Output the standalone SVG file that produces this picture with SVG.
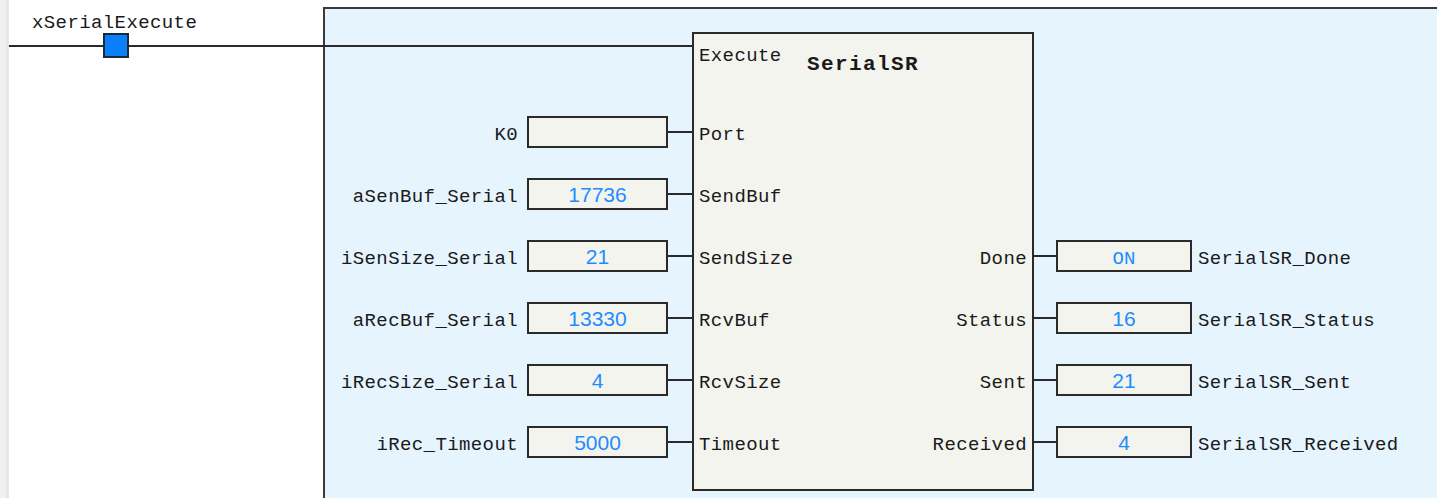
<svg xmlns="http://www.w3.org/2000/svg" width="1437" height="498" viewBox="0 0 1437 498">
<style>
.m{font-family:"Liberation Mono","DejaVu Sans Mono",monospace;font-size:19px;fill:#1a1a1a;letter-spacing:0.4px}
.r{text-anchor:end}
.v{font-family:"Liberation Sans",Arial,sans-serif;font-size:21px;fill:#1e8cff;text-anchor:middle}
.vm{font-family:"Liberation Mono",monospace;font-size:19px;fill:#1e8cff;text-anchor:middle}
.box{fill:#f4f4ef;stroke:#2a2a2a;stroke-width:2}
.ln{stroke:#2a2a2a;stroke-width:2;fill:none}
</style>
<rect x="0" y="0" width="1437" height="498" fill="#ffffff"/>
<rect x="0" y="0" width="6" height="498" fill="#f0f0f0"/>
<rect x="6" y="0" width="3" height="498" fill="#e6e6e6"/>
<g id="region">
<rect x="324" y="8" width="1120" height="500" fill="#e6f4fe" stroke="#3a3a3a" stroke-width="2"/>
</g>
<g id="connectors">
<line class="ln" x1="9" y1="46" x2="693" y2="46"/>
<line class="ln" x1="667" y1="132" x2="693" y2="132"/>
<line class="ln" x1="667" y1="194" x2="693" y2="194"/>
<line class="ln" x1="667" y1="256" x2="693" y2="256"/>
<line class="ln" x1="667" y1="318" x2="693" y2="318"/>
<line class="ln" x1="667" y1="380" x2="693" y2="380"/>
<line class="ln" x1="667" y1="442" x2="693" y2="442"/>
<line class="ln" x1="1033" y1="256" x2="1057" y2="256"/>
<line class="ln" x1="1033" y1="318" x2="1057" y2="318"/>
<line class="ln" x1="1033" y1="380" x2="1057" y2="380"/>
<line class="ln" x1="1033" y1="442" x2="1057" y2="442"/>
</g>
<g id="contact">
<rect x="104" y="34" width="24" height="23" fill="#0a80f8" stroke="#1a2a3a" stroke-width="2"/>
<text class="m" x="32" y="28">xSerialExecute</text>
</g>
<g id="fb">
<rect class="box" x="693" y="33" width="340" height="457"/>
<text class="m" x="699" y="61">Execute</text>
<text x="807" y="70" style="font-family:'Liberation Mono',monospace;font-size:21px;font-weight:bold;fill:#1a1a1a;letter-spacing:1.4px">SerialSR</text>
<text class="m" x="699" y="140">Port</text>
<text class="m" x="699" y="202">SendBuf</text>
<text class="m" x="699" y="264">SendSize</text>
<text class="m" x="699" y="326">RcvBuf</text>
<text class="m" x="699" y="388">RcvSize</text>
<text class="m" x="699" y="450">Timeout</text>
<text class="m r" x="1027" y="264">Done</text>
<text class="m r" x="1027" y="326">Status</text>
<text class="m r" x="1027" y="388">Sent</text>
<text class="m r" x="1027" y="450">Received</text>
</g>
<g id="in-port">
<rect class="box" x="528" y="117" width="139" height="30"/>
<text class="m r" x="518" y="140">K0</text>
</g>
<g id="in-sendbuf">
<rect class="box" x="528" y="179" width="139" height="30"/>
<text class="m r" x="518" y="202">aSenBuf_Serial</text>
<text class="v" x="597.5" y="202">17736</text>
</g>
<g id="in-sendsize">
<rect class="box" x="528" y="241" width="139" height="30"/>
<text class="m r" x="518" y="264">iSenSize_Serial</text>
<text class="v" x="597.5" y="264">21</text>
</g>
<g id="in-rcvbuf">
<rect class="box" x="528" y="303" width="139" height="30"/>
<text class="m r" x="518" y="326">aRecBuf_Serial</text>
<text class="v" x="597.5" y="326">13330</text>
</g>
<g id="in-rcvsize">
<rect class="box" x="528" y="365" width="139" height="30"/>
<text class="m r" x="518" y="388">iRecSize_Serial</text>
<text class="v" x="597.5" y="388">4</text>
</g>
<g id="in-timeout">
<rect class="box" x="528" y="427" width="139" height="30"/>
<text class="m r" x="518" y="450">iRec_Timeout</text>
<text class="v" x="597.5" y="450">5000</text>
</g>
<g id="out-done">
<rect class="box" x="1057" y="241" width="134" height="30"/>
<text class="vm" x="1124" y="264">ON</text>
<text class="m" x="1198" y="264">SerialSR_Done</text>
</g>
<g id="out-status">
<rect class="box" x="1057" y="303" width="134" height="30"/>
<text class="v" x="1124" y="326">16</text>
<text class="m" x="1198" y="326">SerialSR_Status</text>
</g>
<g id="out-sent">
<rect class="box" x="1057" y="365" width="134" height="30"/>
<text class="v" x="1124" y="388">21</text>
<text class="m" x="1198" y="388">SerialSR_Sent</text>
</g>
<g id="out-received">
<rect class="box" x="1057" y="427" width="134" height="30"/>
<text class="v" x="1124" y="450">4</text>
<text class="m" x="1198" y="450">SerialSR_Received</text>
</g>
</svg>
